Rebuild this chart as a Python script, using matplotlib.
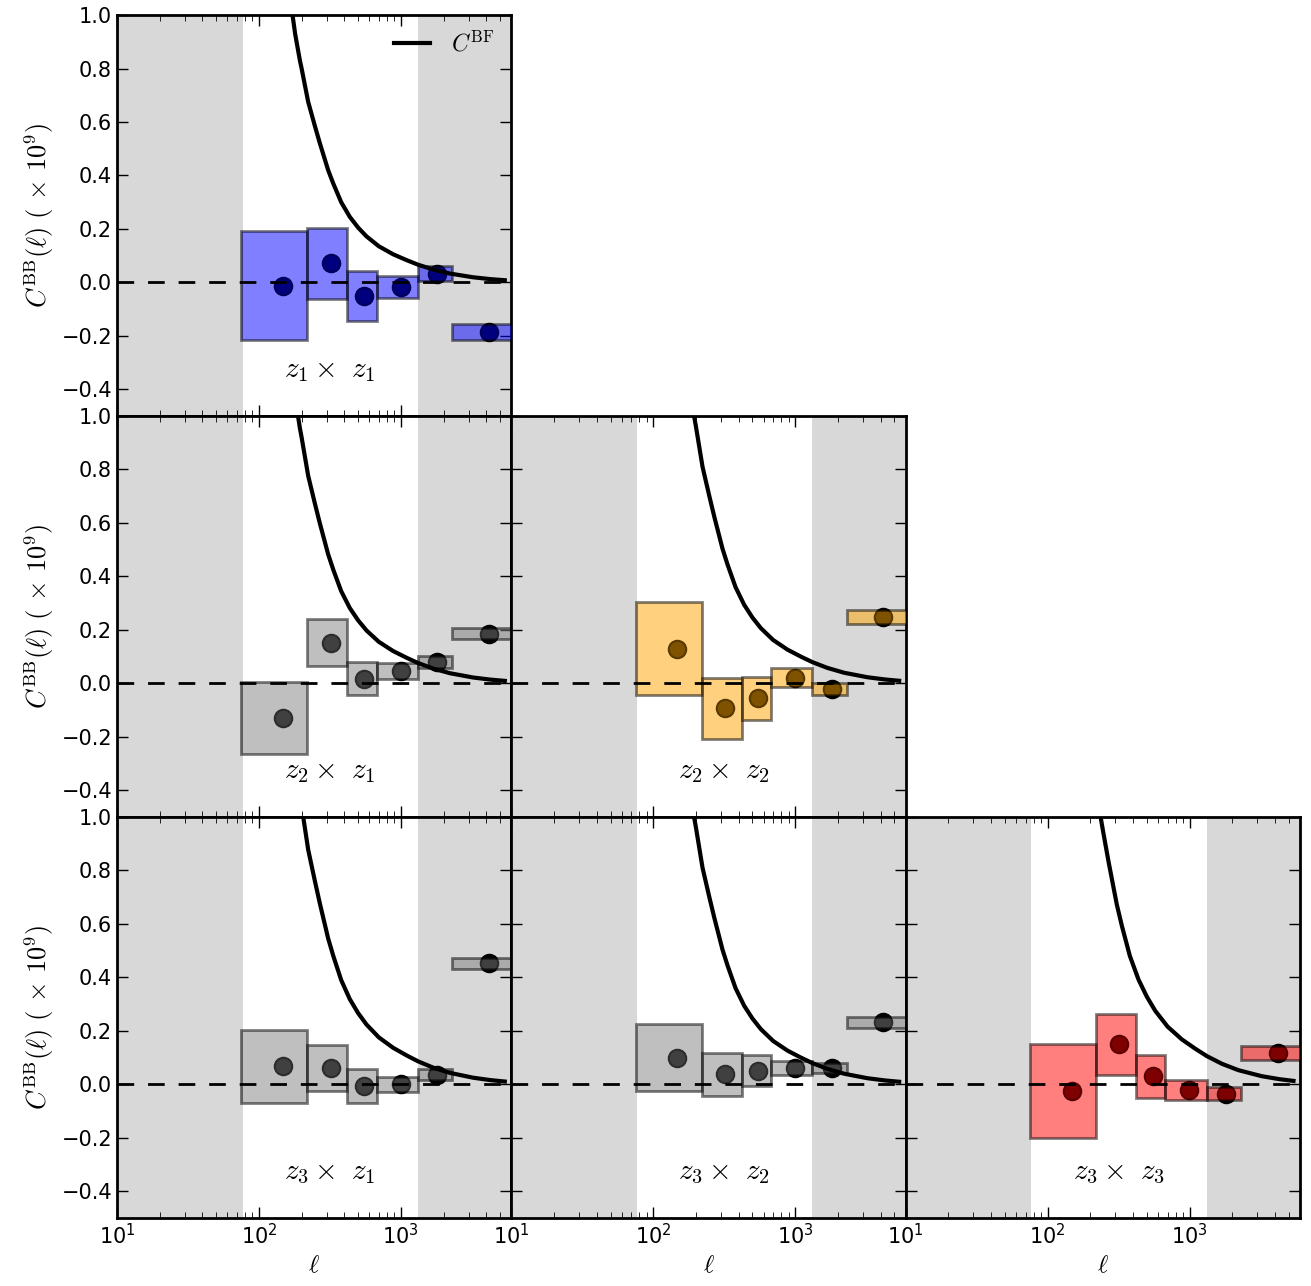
"""Grid of BB cross-spectra per redshift bin pair, with best-fit curve."""
import numpy as np
import matplotlib
matplotlib.use('Agg')
import matplotlib.pyplot as plt
from matplotlib.patches import Rectangle

plt.rcParams['mathtext.fontset'] = 'cm'
plt.rcParams['xtick.direction'] = 'in'
plt.rcParams['ytick.direction'] = 'in'
plt.rcParams['xtick.top'] = True
plt.rcParams['ytick.right'] = True
plt.rcParams['xtick.major.size'] = 8
plt.rcParams['ytick.major.size'] = 8
plt.rcParams['xtick.minor.size'] = 4
plt.rcParams['ytick.minor.size'] = 4
plt.rcParams['xtick.major.width'] = 1
plt.rcParams['ytick.major.width'] = 1
plt.rcParams['axes.linewidth'] = 2

# multipole bins (edges and centres)
ell_lo = [75, 220, 420, 675, 1320, 2300]
ell_hi = [220, 420, 675, 1320, 2300, 7500]
ell_c = [148, 321, 549, 995, 1811, 4170]

# measured C^BB (x 1e9) and errors, per bin pair
c11 = [-0.012, 0.071, -0.051, -0.018, 0.033, -0.184]
e11 = [0.205, 0.134, 0.095, 0.041, 0.028, 0.030]
c21 = [-0.130, 0.152, 0.018, 0.045, 0.080, 0.186]
e21 = [0.134, 0.088, 0.063, 0.030, 0.021, 0.020]
c22 = [0.130, -0.094, -0.056, 0.021, -0.021, 0.248]
e22 = [0.174, 0.113, 0.080, 0.035, 0.024, 0.025]
c31 = [0.067, 0.061, -0.007, 0.001, 0.036, 0.453]
e31 = [0.136, 0.087, 0.063, 0.028, 0.020, 0.020]
c32 = [0.100, 0.037, 0.050, 0.061, 0.061, 0.232]
e32 = [0.125, 0.082, 0.058, 0.027, 0.019, 0.020]
c33 = [-0.024, 0.150, 0.030, -0.021, -0.035, 0.116]
e33 = [0.175, 0.114, 0.080, 0.036, 0.024, 0.026]

# best-fit curve, plus per-panel amplitude
bf_ell = [130, 150, 172.6, 180, 194.5, 200, 222.5, 248, 269, 307.5, 334, 380,
          437, 500, 573, 700, 883, 1100, 1324, 1690, 2213, 3228, 4300, 5400]
bf_val = [1.66, 1.29, 1.0, 0.93, 0.83, 0.80, 0.675, 0.585, 0.52, 0.42, 0.37, 0.30,
          0.245, 0.205, 0.172, 0.135, 0.105, 0.083, 0.066, 0.048, 0.033, 0.019,
          0.012, 0.008]
bf_amp = {'11': 1.0, '21': 1.15, '22': 1.2, '31': 1.3, '32': 1.2, '33': 1.6}

panels = [
    ('11', 0, 0, c11, e11, 'blue', r'$z_1\times\ z_1$'),
    ('21', 1, 0, c21, e21, 'gray', r'$z_2\times\ z_1$'),
    ('22', 1, 1, c22, e22, 'orange', r'$z_2\times\ z_2$'),
    ('31', 2, 0, c31, e31, 'gray', r'$z_3\times\ z_1$'),
    ('32', 2, 1, c32, e32, 'gray', r'$z_3\times\ z_2$'),
    ('33', 2, 2, c33, e33, 'red', r'$z_3\times\ z_3$'),
]

fig = plt.figure(figsize=(13.11, 12.86), dpi=100)
gs = fig.add_gridspec(3, 3, left=0.0892, right=0.9916, top=0.9883, bottom=0.0529,
                      hspace=0, wspace=0)

for key, r, c, vals, errs, color, label in panels:
    ax = fig.add_subplot(gs[r, c])
    ax.set_xscale('log')
    ax.set_xlim(10, 6000)
    ax.set_ylim(-0.5, 1.0)
    ax.set_yticks([-0.4, -0.2, 0.0, 0.2, 0.4, 0.6, 0.8, 1.0])

    # excluded scales
    ax.axvspan(10, 77, color='gray', alpha=0.3, lw=0, zorder=0)
    ax.axvspan(1320, 6000, color='gray', alpha=0.3, lw=0, zorder=0)

    ax.plot(ell_c, vals, 'o', color='k', ms=13, mec='k', zorder=2)
    for lo, hi, v, e in zip(ell_lo, ell_hi, vals, errs):
        ax.add_patch(Rectangle((lo, v - e), hi - lo, 2 * e, facecolor=color,
                               edgecolor='k', alpha=0.5, lw=2, zorder=3))
    # faint outline of the points above the boxes
    ax.plot(ell_c, vals, 'o', mfc='none', mec='k', mew=1.5, ms=12.5,
            alpha=0.3, zorder=3.5)

    amp = bf_amp[key]
    ax.plot(bf_ell, [amp * v for v in bf_val], 'k-', lw=3, zorder=5,
            label=r'$C^{\rm BF}$')
    ax.axhline(0, color='k', ls='--', lw=2, dashes=(6, 5), zorder=4)

    ax.text(0.54, 0.115, label, transform=ax.transAxes, ha='center',
            va='center', fontsize=21)

    ax.tick_params(labelsize=15)
    if c == 0:
        ax.set_ylabel(r'$C^{\rm BB}(\ell)\ (\,\times\,10^9)$', fontsize=19)
    else:
        ax.set_yticklabels([])
    if r == 2:
        ax.set_xlabel(r'$\ell$', fontsize=18)
    else:
        ax.set_xticklabels([])
    if key == '11':
        ax.legend(loc='upper right', frameon=False, fontsize=17,
                  handlelength=1.5, borderaxespad=0.3, handletextpad=0.9)

fig.savefig('out.png', dpi=100)
